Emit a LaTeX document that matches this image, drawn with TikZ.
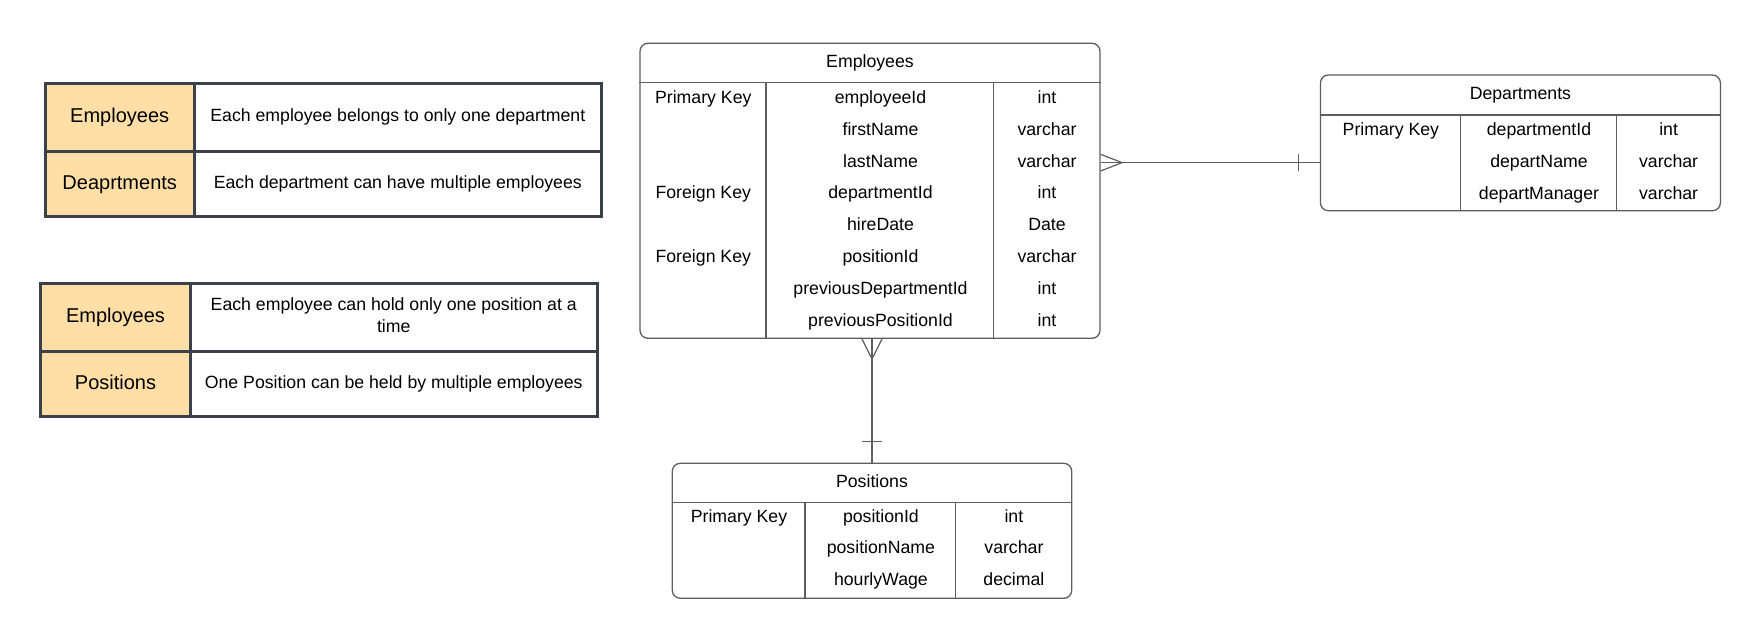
\documentclass[tikz,border=0pt]{standalone}
\usepackage{fontspec}
\setmainfont{Liberation Sans}
\usetikzlibrary{calc}
\definecolor{tblc}{HTML}{3A414A}
\definecolor{orgc}{HTML}{FFDFA6}
\definecolor{entc}{HTML}{5E5E5E}
\begin{document}
\begin{tikzpicture}[x=1pt,y=-1pt,
  entbox/.style={draw=entc, line width=1.3pt, rounded corners=8pt, fill=white, inner sep=0pt},
  sepline/.style={draw=entc, line width=1.3pt},
  txt/.style={font=\fontsize{17.7}{21}\selectfont, inner sep=0pt, text height=12.7pt, text depth=0pt, anchor=center},
  lblcell/.style={draw=tblc, line width=3pt, fill=orgc, inner sep=0pt, font=\fontsize{20}{24}\selectfont, text height=14.3pt, text depth=4pt},
  desccell/.style={draw=tblc, line width=3pt, fill=white, inner sep=0pt, font=\fontsize{17.7}{21}\selectfont, text height=12.7pt, text depth=4pt},
  desctwo/.style={draw=tblc, line width=3pt, fill=white, inner sep=0pt, font=\fontsize{17.7}{22.3}\selectfont, align=center},
  conn/.style={draw=entc, line width=1.2pt}
]
\useasboundingbox[fill=white] (0,0) rectangle (1762,643);

% ---------- Table 1 ----------
\node[lblcell, minimum width=149.4pt, minimum height=68.5pt] (t1a) at (119.7,117.45) {Employees};
\node[desccell, minimum width=406.8pt, minimum height=68.5pt] (t1b) at (397.8,117.45) {Each employee belongs to only one department};
\node[lblcell, minimum width=149.4pt, minimum height=65.2pt] (t1c) at (119.7,184.3) {Deaprtments};
\node[desccell, minimum width=406.8pt, minimum height=65.2pt] (t1d) at (397.8,184.3) {Each department can have multiple employees};

% ---------- Table 2 ----------
\node[lblcell, minimum width=150pt, minimum height=68.4pt] (t2a) at (115.5,317.5) {Employees};
\node[desctwo, minimum width=406.5pt, minimum height=68.4pt] (t2b) at (393.75,317.5) {Each employee can hold only one position at a\\time\rule[-4.6pt]{0pt}{0pt}};
\node[lblcell, minimum width=150pt, minimum height=65.1pt] (t2c) at (115.5,384.25) {Positions};
\node[desccell, minimum width=406.5pt, minimum height=65.1pt] (t2d) at (393.75,384.25) {One Position can be held by multiple employees};

% ---------- Employees entity ----------
\node[entbox, minimum width=460pt, minimum height=295pt] (emp) at (870,190.8) {};
\draw[sepline] ($(emp.north west)+(0,40)$) -- ($(emp.north east)+(0,40)$);
\draw[sepline] ($(emp.north west)+(126.7,40)$) -- ($(emp.south west)+(126.7,0)$);
\draw[sepline] ($(emp.north west)+(354.3,40)$) -- ($(emp.south west)+(354.3,0)$);
\node[txt] (empH) at (870,60.7) {Employees};
\node[txt] (empK1) at (703.3,96.7) {Primary Key};
\node[txt] (empF1) at (880.5,96.7) {employeeId};
\node[txt] (empT1) at (1047,96.7) {int};
\node[txt] (empF2) at (880.5,128.7) {firstName};
\node[txt] (empT2) at (1047,128.7) {varchar};
\node[txt] (empF3) at (880.5,160.7) {lastName};
\node[txt] (empT3) at (1047,160.7) {varchar};
\node[txt] (empK4) at (703.3,192.5) {Foreign Key};
\node[txt] (empF4) at (880.5,192.5) {departmentId};
\node[txt] (empT4) at (1047,192.5) {int};
\node[txt] (empF5) at (880.5,224.5) {hireDate};
\node[txt] (empT5) at (1047,224.5) {Date};
\node[txt] (empK6) at (703.3,256.5) {Foreign Key};
\node[txt] (empF6) at (880.5,256.5) {positionId};
\node[txt] (empT6) at (1047,256.5) {varchar};
\node[txt] (empF7) at (880.5,288.5) {previousDepartmentId};
\node[txt] (empT7) at (1047,288.5) {int};
\node[txt] (empF8) at (880.5,320.3) {previousPositionId};
\node[txt] (empT8) at (1047,320.3) {int};

% ---------- Departments entity ----------
\node[entbox, minimum width=400pt, minimum height=135.7pt] (dep) at (1520.4,142.85) {};
\draw[sepline] ($(dep.north west)+(0,40.5)$) -- ($(dep.north east)+(0,40.5)$);
\draw[sepline] ($(dep.north west)+(140.9,40.5)$) -- ($(dep.south west)+(140.9,0)$);
\draw[sepline] ($(dep.north west)+(296.4,40.5)$) -- ($(dep.south west)+(296.4,0)$);
\node[txt] (depH) at (1520.4,93.3) {Departments};
\node[txt] (depK1) at (1390.9,129.2) {Primary Key};
\node[txt] (depF1) at (1539,129.2) {departmentId};
\node[txt] (depT1) at (1668.6,129.2) {int};
\node[txt] (depF2) at (1539,161) {departName};
\node[txt] (depT2) at (1668.6,161) {varchar};
\node[txt] (depF3) at (1539,193.3) {departManager};
\node[txt] (depT3) at (1668.6,193.3) {varchar};

% ---------- Positions entity ----------
\node[entbox, minimum width=399.4pt, minimum height=135pt] (pos) at (872,530.8) {};
\draw[sepline] ($(pos.north west)+(0,40)$) -- ($(pos.north east)+(0,40)$);
\draw[sepline] ($(pos.north west)+(133.4,40)$) -- ($(pos.south west)+(133.4,0)$);
\draw[sepline] ($(pos.north west)+(283.7,40)$) -- ($(pos.south west)+(283.7,0)$);
\node[txt] (posH) at (872,481.2) {Positions};
\node[txt] (posK1) at (739,515.8) {Primary Key};
\node[txt] (posF1) at (880.9,515.8) {positionId};
\node[txt] (posT1) at (1013.9,515.8) {int};
\node[txt] (posF2) at (880.9,547.6) {positionName};
\node[txt] (posT2) at (1013.9,547.6) {varchar};
\node[txt] (posF3) at (880.9,579.4) {hourlyWage};
\node[txt] (posT3) at (1013.9,579.4) {decimal};

% ---------- Connectors ----------
\coordinate (h1) at ($(emp.north east)+(0,120)$);
\coordinate (h2) at (dep.west |- h1);
\draw[conn] (h1) -- (h2);
\draw[conn] ($(h1)+(0,-8.3)$) -- ($(h1)+(21.5,0)$) -- ($(h1)+(0,8.3)$);
\draw[conn] ($(h2)+(-21.4,-8.3)$) -- ($(h2)+(-21.4,8.3)$);

\coordinate (v1) at (pos.north |- emp.south);
\draw[conn] (v1) -- (pos.north);
\draw[conn] ($(v1)+(-10,0)$) -- ($(v1)+(0,20)$) -- ($(v1)+(10,0)$);
\draw[conn] ($(pos.north)+(-10,-21)$) -- ($(pos.north)+(10,-21)$);
\end{tikzpicture}
\end{document}
